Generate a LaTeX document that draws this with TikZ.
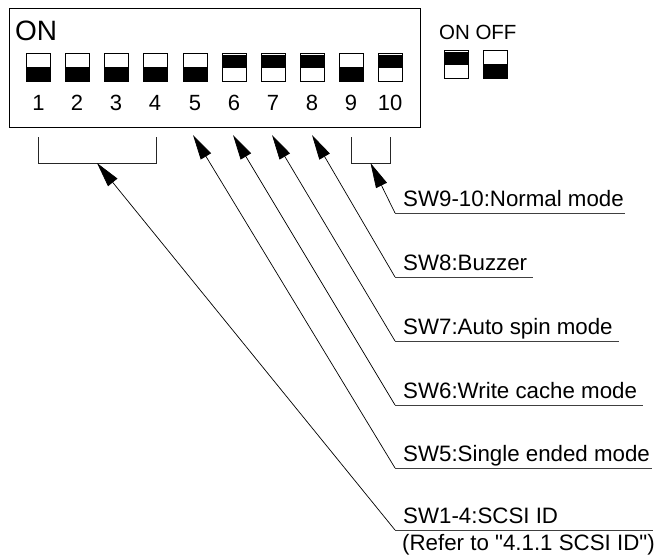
\documentclass[tikz,border=0pt]{standalone}
\usepackage{fontspec}
\setmainfont{Liberation Sans}[Ligatures=TeXOff]
\usetikzlibrary{arrows.meta}
\tikzset{
  sw/.style={draw, line width=0.8pt, minimum width=24pt, minimum height=28pt, inner sep=0pt},
  swon/.style={sw, path picture={\fill ([yshift=-1.5pt]path picture bounding box.north west) rectangle ([yshift=-15pt]path picture bounding box.north east);}},
  swoff/.style={sw, path picture={\fill (path picture bounding box.south west) rectangle ([yshift=14.5pt]path picture bounding box.south east);}},
  num/.style={font=\fontsize{22}{24}\selectfont, inner sep=0pt, anchor=base},
  lbl/.style={font=\fontsize{22.3}{24}\selectfont, inner sep=0pt, anchor=base west},
  uline/.style={draw=black!75, line width=0.9pt},
  arr/.style={line width=0.7pt, -{Triangle[length=25pt,width=12pt]}},
  brk/.style={line width=0.8pt, draw=black!85},
}
\begin{document}
\begin{tikzpicture}[x=1pt,y=-1pt]
\useasboundingbox (0,0) rectangle (658,557);
% main box
\draw[line width=1pt] (9,8) rectangle (420,127);
\node[font=\fontsize{28}{30}\selectfont, inner sep=0pt, anchor=base west] (on) at (15,40) {ON};
% switches
\node[swoff] (s1) at (38.5,67) {};
\node[swoff] (s2) at (77,67) {};
\node[swoff] (s3) at (116,67) {};
\node[swoff] (s4) at (155,67) {};
\node[swoff] (s5) at (195,67) {};
\node[swon]  (s6) at (234,67) {};
\node[swon]  (s7) at (273,67) {};
\node[swon]  (s8) at (312,67) {};
\node[swoff] (s9) at (351,67) {};
\node[swon]  (s10) at (390,67) {};
\node[num] (n1) at (38.5,110) {1};
\node[num] (n2) at (77,110) {2};
\node[num] (n3) at (116,110) {3};
\node[num] (n4) at (155,110) {4};
\node[num] (n5) at (195,110) {5};
\node[num] (n6) at (234,110) {6};
\node[num] (n7) at (273,110) {7};
\node[num] (n8) at (312,110) {8};
\node[num] (n9) at (351,110) {9};
\node[num] (n10) at (390,110) {10};
% legend
\node[swon]  (lon) at (456.5,64) {};
\node[swoff] (loff) at (495.5,64) {};
\node[font=\fontsize{20.5}{22}\selectfont, inner sep=0pt, anchor=base] (lont) at (454.5,39) {ON};
\node[font=\fontsize{20.5}{22}\selectfont, inner sep=0pt, anchor=base] (lofft) at (496,39) {OFF};
% brackets
\draw[brk] (38,137) -- (38,163) -- (156,163) -- (156,137);
\draw[brk] (351,137) -- (351,163) -- (390,163) -- (390,137);
\coordinate (t14) at (97,163);
\coordinate (t910) at (370.5,163);
\coordinate (t5) at (193,135);
\coordinate (t6) at (233,135);
\coordinate (t7) at (272,135);
\coordinate (t8) at (312,135);
% label anchors
\coordinate (k910) at (395,213);
\coordinate (k8) at (395,277);
\coordinate (k7) at (395,341);
\coordinate (k6) at (395,405);
\coordinate (k5) at (395,468);
\coordinate (k14) at (395,530);
% labels
\node[lbl] (l910) at (403,206.5) {SW9-10:Normal mode};
\node[lbl] (l8) at (403,270.5) {SW8:Buzzer};
\node[lbl] (l7) at (403,334.5) {SW7:Auto spin mode};
\node[lbl] (l6) at (403,398.5) {SW6:Write cache mode};
\node[lbl] (l5) at (403,461.5) {SW5:Single ended mode};
\node[lbl] (l14) at (403,523.5) {SW1-4:SCSI ID};
\node[lbl] (l14b) at (402,550) {(Refer to "4.1.1 SCSI ID")};
% underlines
\draw[uline] (k910) -- (625,213);
\draw[uline] (k8) -- (533,277);
\draw[uline] (k7) -- (619,341);
\draw[uline] (k6) -- (643,405);
\draw[uline] (k5) -- (652,468);
\draw[uline] (k14) -- (653,530);
% arrows
\draw[arr] (k910) -- (t910);
\draw[arr] (k8) -- (t8);
\draw[arr] (k7) -- (t7);
\draw[arr] (k6) -- (t6);
\draw[arr] (k5) -- (t5);
\draw[arr] (k14) -- (t14);
\end{tikzpicture}
\end{document}
